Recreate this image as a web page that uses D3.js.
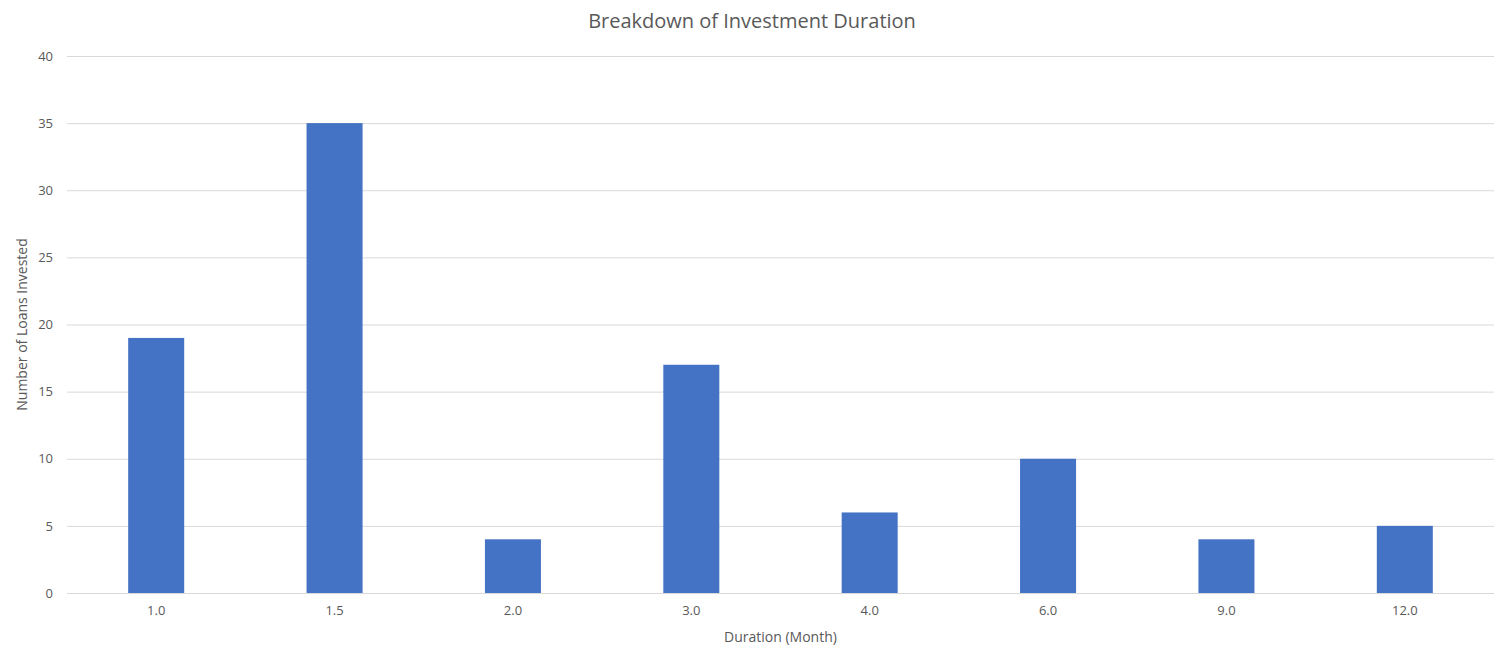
<!DOCTYPE html>
<html><head><meta charset="utf-8">
<script src="https://cdn.jsdelivr.net/npm/d3@7"></script>
<style>body{margin:0;background:#fff}svg{display:block;font-family:"Segoe UI","Open Sans",sans-serif}</style>
</head><body><svg id="c" width="1506" height="660"></svg>
<script>
const categories = ["1.0","1.5","2.0","3.0","4.0","6.0","9.0","12.0"];
const values = [19,35,4,17,6,10,4,5];
const yTicks = [0,5,10,15,20,25,30,35,40];

const svg = d3.select("#c");
const m = {left:67, right:1494, top:56, bottom:593};
const x = d3.scaleBand().domain(categories).range([m.left,m.right]).paddingInner(0.686).paddingOuter(0.343);
const y = d3.scaleLinear().domain([0,40]).range([m.bottom,m.top]);

const grid = svg.append("g");
grid.selectAll("line").data(yTicks).join("line")
  .attr("x1",m.left).attr("x2",m.right)
  .attr("y1",d=>y(d)+0.5).attr("y2",d=>y(d)+0.5)
  .attr("stroke","#d9d9d9").attr("stroke-width",1);

svg.append("g").selectAll("rect").data(values).join("rect")
  .attr("x",(d,i)=>x(categories[i])).attr("width",x.bandwidth())
  .attr("y",d=>y(d)).attr("height",d=>y(0)-y(d)).attr("fill","#4472c4");

const yAxis = svg.append("g").attr("transform",`translate(${m.left},0)`)
  .call(d3.axisLeft(y).tickValues(yTicks).tickSize(0).tickPadding(14));
yAxis.attr("font-family",null).attr("font-size",null);
yAxis.select(".domain").remove();
yAxis.selectAll("text").attr("fill","#595959").style("font-size","13px");

const xAxis = svg.append("g").attr("transform",`translate(0,${m.bottom})`)
  .call(d3.axisBottom(x).tickSize(0).tickPadding(13));
xAxis.attr("font-family",null).attr("font-size",null);
xAxis.select(".domain").remove();
xAxis.selectAll("text").attr("fill","#595959").style("font-size","13px");

svg.append("text").attr("x",752).attr("y",28).attr("text-anchor","middle")
  .attr("fill","#595959").style("font-size","20px").text("Breakdown of Investment Duration");
svg.append("text").attr("x",(m.left+m.right)/2).attr("y",642).attr("text-anchor","middle")
  .attr("fill","#595959").style("font-size","14px").text("Duration (Month)");
svg.append("text").attr("transform",`translate(27,${(m.top+m.bottom)/2}) rotate(-90)`).attr("text-anchor","middle")
  .attr("fill","#595959").style("font-size","14px").text("Number of Loans Invested");
</script></body></html>
